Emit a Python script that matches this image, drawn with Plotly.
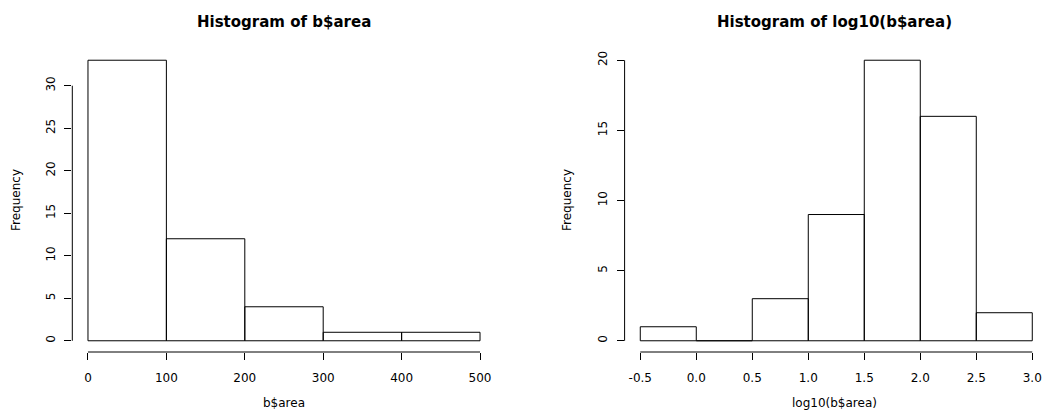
import plotly.graph_objects as go

# ---- data ----
area_edges = [0, 100, 200, 300, 400, 500]
area_counts = [33, 12, 4, 1, 1]
log_edges = [-0.5, 0.0, 0.5, 1.0, 1.5, 2.0, 2.5, 3.0]
log_counts = [1, 0, 3, 9, 20, 16, 2]

area_xticks = [0, 100, 200, 300, 400, 500]
area_yticks = [0, 5, 10, 15, 20, 25, 30]
log_xticks = [-0.5, 0.0, 0.5, 1.0, 1.5, 2.0, 2.5, 3.0]
log_xticklabels = ["-0.5", "0.0", "0.5", "1.0", "1.5", "2.0", "2.5", "3.0"]
log_yticks = [0, 5, 10, 15, 20]

titles = ["Histogram of b$area", "Histogram of log10(b$area)"]
xtitles = ["b$area", "log10(b$area)"]
ytitle = "Frequency"

W, H = 1044, 412
FONT = "DejaVu Sans"


def rect_path(edges, counts):
    xs, ys = [], []
    for i, c in enumerate(counts):
        x0, x1 = edges[i], edges[i + 1]
        xs += [x0, x0, x1, x1, x0, None]
        ys += [0, c, c, 0, 0, None]
    return xs, ys


fig = go.Figure()
for k, (edges, counts) in enumerate([(area_edges, area_counts), (log_edges, log_counts)]):
    xs, ys = rect_path(edges, counts)
    fig.add_trace(go.Scatter(
        x=xs, y=ys, mode="lines", fill="toself", fillcolor="white",
        line=dict(color="black", width=1), hoverinfo="skip",
        xaxis="x" if k == 0 else "x2", yaxis="y" if k == 0 else "y2",
        showlegend=False,
    ))

# plot regions in pixels (R style, 4% axis extension)
px = lambda v: v / W
py = lambda v: (H - v) / H

ydom = [py(352), py(49)]
axis_common = dict(
    showgrid=False, zeroline=False, showline=False,
    ticks="outside", ticklen=7, tickwidth=1, tickcolor="black",
    tickfont=dict(family=FONT, size=12, color="black"),
    fixedrange=True,
)
fig.update_layout(
    width=W, height=H,
    margin=dict(l=0, r=0, t=0, b=0),
    paper_bgcolor="white", plot_bgcolor="white",
    xaxis=dict(domain=[px(72.3), px(495.7)], range=[-20, 520],
               tickvals=area_xticks, anchor="y", ticklabelstandoff=8, **axis_common),
    yaxis=dict(domain=ydom, range=[-1.32, 34.32], tickvals=area_yticks,
               tickangle=-90, anchor="x", ticklabelstandoff=5, **axis_common),
    xaxis2=dict(domain=[px(624.6), 1.0], range=[-0.64, -0.64 + (W - 624.6) / 112.0],
                tickvals=log_xticks, ticktext=log_xticklabels, anchor="y2",
                ticklabelstandoff=8, **axis_common),
    yaxis2=dict(domain=ydom, range=[-0.8, 20.8], tickvals=log_yticks,
                tickangle=-90, anchor="x2", ticklabelstandoff=5, **axis_common),
)

# R-style axis lines spanning first..last tick
shapes = []
for xa, ya, xt, yt in [("x", "y", area_xticks, area_yticks), ("x2", "y2", log_xticks, log_yticks)]:
    shapes.append(dict(type="line", xref=xa, yref=ya + " domain",
                       x0=min(xt), x1=max(xt), y0=0, y1=0,
                       line=dict(color="black", width=1)))
    shapes.append(dict(type="line", xref=xa + " domain", yref=ya,
                       x0=0, x1=0, y0=min(yt), y1=max(yt),
                       line=dict(color="black", width=1)))
fig.update_layout(shapes=shapes)

annotations = []
for k, xa in enumerate(["x", "x2"]):
    annotations.append(dict(text="<b>" + titles[k] + "</b>", xref=xa + " domain", yref="paper",
                            x=0.5, y=py(22), xanchor="center", yanchor="middle",
                            showarrow=False, font=dict(family=FONT, size=15, color="black")))
    annotations.append(dict(text=xtitles[k], xref=xa + " domain", yref="paper",
                            x=0.5, y=py(403), xanchor="center", yanchor="middle",
                            showarrow=False, font=dict(family=FONT, size=12, color="black")))
for xpix in [16.5, 567.5]:
    annotations.append(dict(text=ytitle, xref="paper", yref="y domain",
                            x=px(xpix), y=0.5, xanchor="center", yanchor="middle",
                            textangle=-90, showarrow=False,
                            font=dict(family=FONT, size=12, color="black")))
fig.update_layout(annotations=annotations)

fig.write_html("out.html", config={"displayModeBar": False, "staticPlot": True})

# remove the default page margin so the figure fills the window exactly
with open("out.html", "r", encoding="utf-8") as f:
    html = f.read()
html = html.replace("<head>", "<head><style>html,body{margin:0;padding:0;overflow:hidden;}</style>", 1)
with open("out.html", "w", encoding="utf-8") as f:
    f.write(html)
